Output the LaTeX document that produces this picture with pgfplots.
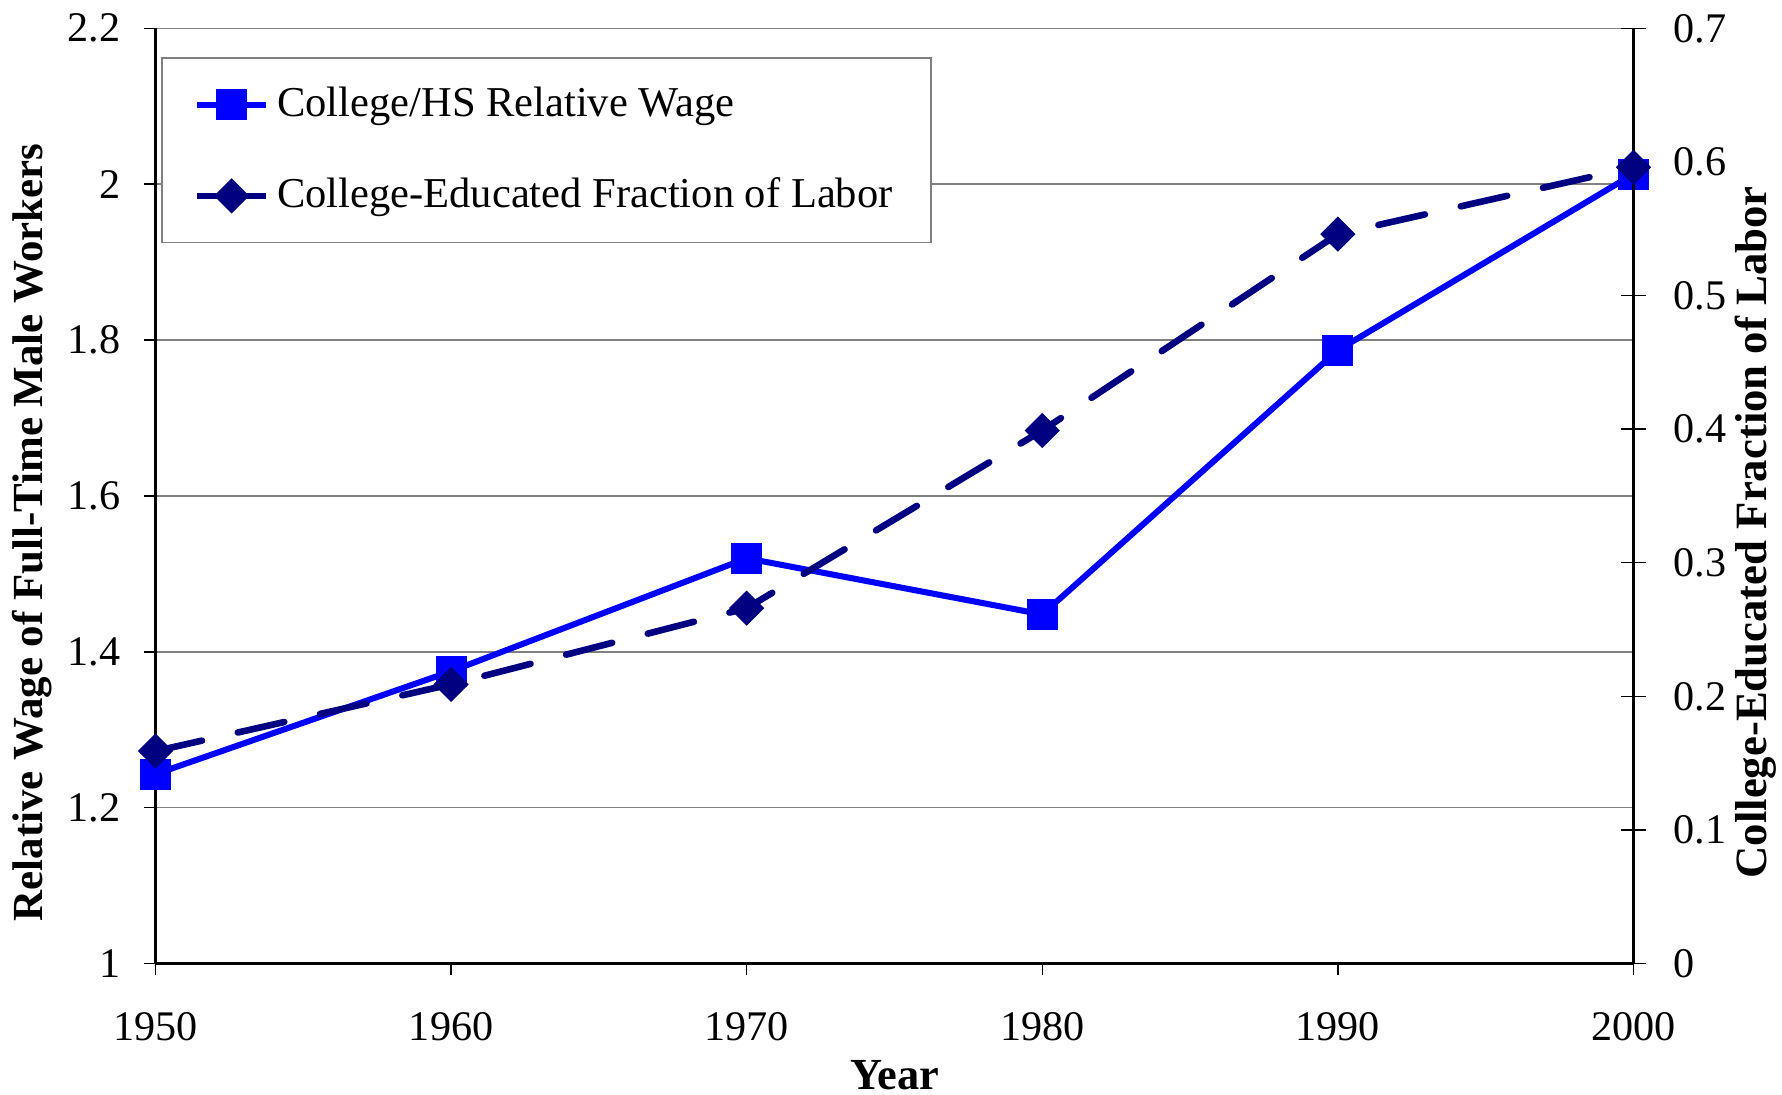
\documentclass[border=0pt]{standalone}
\usepackage{fontspec}
\setmainfont{Liberation Serif}
\usepackage{pgfplots}
\pgfplotsset{compat=1.18}
\definecolor{wageblue}{RGB}{0,0,255}
\definecolor{fracnavy}{RGB}{0,0,128}

\begin{document}
\fontsize{11.5}{13.8}\selectfont
\begin{tikzpicture}
\pgfplotsset{
  common/.style={
    scale only axis, width=403pt, height=255pt,
    xmin=1950, xmax=2000, clip=false,
    /pgf/number format/assume math mode=true,
    /pgf/number format/1000 sep={},
  }
}
% left axis: relative wage
\begin{axis}[common, name=ax1,
  ymin=1, ymax=2.2,
  ytick={1,1.2,1.4,1.6,1.8,2,2.2},
  xtick={1950,1960,1970,1980,1990,2000},
  axis x line*=bottom, axis y line*=left,
  axis line style={-, line width=0.6pt},
  tick align=outside, major tick length=3.2pt,
  tick style={black, line width=0.4pt},
  ymajorgrids, grid style={gray, line width=0.4pt},
  xticklabel style={yshift=-6pt},
  yticklabel style={xshift=-2.4pt},
  every axis x label/.style={at={(axis description cs:0.5,-0.119)}, anchor=center,
    inner sep=0pt, font=\fontsize{12.1}{14}\selectfont},
  every axis y label/.style={at={(axis description cs:-0.0836,0.461)}, rotate=90, anchor=center,
    inner sep=0pt, font=\fontsize{11.7}{14}\selectfont},
  xlabel={\textbf{Year}},
  ylabel={\textbf{Relative Wage of Full-Time Male Workers}},
  legend style={at={(0.004,0.969)}, anchor=north west, draw=gray, line width=0.5pt,
    fill=white, inner xsep=8.5pt, inner ysep=5.8pt, row sep=11pt, cells={anchor=west},
    font=\fontsize{11.6}{14}\selectfont},
  legend image code/.code={\draw[mark repeat=2, mark phase=2, solid]
    plot coordinates {(0pt,0pt) (9.5pt,0pt) (19pt,0pt)};},
]
\addplot[wageblue, line width=1.65pt, mark=square*, mark size=3.4pt]
  coordinates {(1950,1.243) (1960,1.375) (1970,1.520) (1980,1.448) (1990,1.787) (2000,2.013)};
\addlegendentry{College/HS Relative Wage}
\addlegendimage{fracnavy, line width=1.8pt, mark=square*, mark size=2.5pt, mark options={rotate=45}}
\addlegendentry{College-Educated Fraction of Labor}
\end{axis}

% right axis: college-educated fraction
\begin{axis}[common,
  ymin=0, ymax=0.7,
  ytick={0,0.1,0.2,0.3,0.4,0.5,0.6,0.7},
  axis y line*=right, axis x line=none,
  axis line style={-, line width=0.6pt},
  tick align=center, major tick length=6.8pt,
  tick style={black, line width=0.4pt},
  yticklabel style={xshift=3.5pt},
  every axis y label/.style={at={(axis description cs:1.083,0.461)}, rotate=90, anchor=center,
    inner sep=0pt, font=\fontsize{12.2}{14}\selectfont},
  ylabel={\textbf{College-Educated Fraction of Labor}},
]
\addplot[fracnavy, line width=1.8pt, line cap=round, dash pattern=on 13pt off 10pt,
  mark=square*, mark size=2.5pt, mark options={rotate=45, solid}]
  coordinates {(1950,0.159) (1960,0.209) (1970,0.266) (1980,0.399) (1990,0.546) (2000,0.596)};
\end{axis}

\path ([xshift=-42.4pt,yshift=-35.7pt]ax1.south west) rectangle ([xshift=40.5pt,yshift=7.7pt]ax1.north east);
\end{tikzpicture}
\end{document}
